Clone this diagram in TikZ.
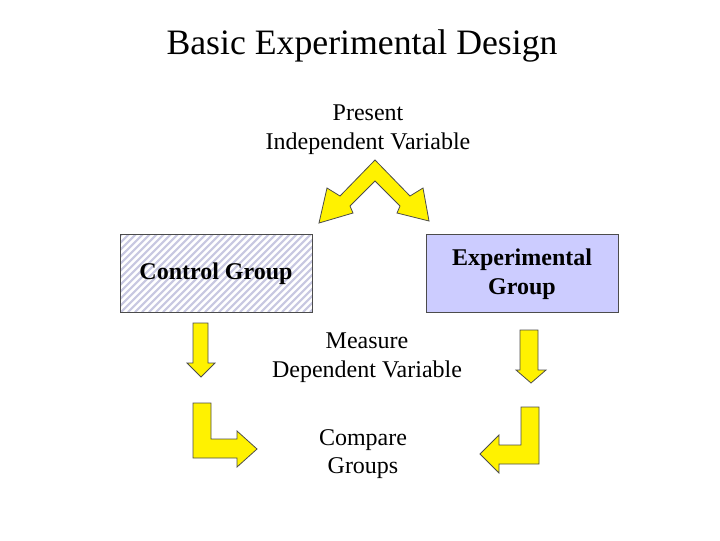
\documentclass[tikz,border=0pt]{standalone}
\usepackage{fontspec}
\setmainfont{Liberation Serif}
\begin{document}
\begin{tikzpicture}[x=0.75pt,y=-0.75pt,
  arr/.style={draw=black!70,fill=yellow,line width=0.6pt,line join=miter},
  box/.style={draw=black!70,line width=0.6pt},
  lbl/.style={font=\fontsize{18}{21.5}\selectfont,align=center},
  blbl/.style={font=\bfseries\fontsize{18}{22}\selectfont,align=center}]
\useasboundingbox (0,0) rectangle (720,540);
\node[font=\fontsize{26.8}{30}\selectfont] (title) at (362,46) {Basic Experimental Design};
\node[lbl] (present) at (368,130) {Present\\Independent Variable};
\draw[arr] (375,160) -- (340,196) -- (327,188) -- (319,223) -- (353,213) -- (350,206) -- (375,181) -- (400,206) -- (397,213) -- (429,221) -- (423,188) -- (410,196) -- cycle;
\begin{scope}
\clip (120,234) rectangle (312,312);
\foreach \i in {0,7,...,290} {
  \draw[color={rgb,255:red,200;green,200;blue,225},line width=1.6pt] (120+\i-90,312) -- (120+\i,222);
}
\end{scope}
\draw[box] (120,234) rectangle (312,312);
\node[blbl] (ctrl) at (216,274) {Control Group};
\draw[box,fill={rgb,255:red,204;green,204;blue,255}] (426,234) rectangle (618,312);
\node[blbl] (exp) at (522,274) {Experimental\\Group};
\node[lbl] (measure) at (367,358) {Measure\\Dependent Variable};
\node[lbl] (compare) at (363,454) {Compare\\Groups};
\draw[arr] (193,323) -- (208,323) -- (208,363) -- (215,363) -- (201,377) -- (187,363) -- (193,363) -- cycle;
\draw[arr] (520,330) -- (538,330) -- (538,370) -- (546,370) -- (531,383) -- (516,370) -- (520,370) -- cycle;
\draw[arr] (193,403) -- (211,403) -- (211,439) -- (237,439) -- (237,431) -- (257,449) -- (237,467) -- (237,458) -- (193,458) -- cycle;
\draw[arr] (521,407) -- (539,407) -- (539,464) -- (499,464) -- (499,473) -- (480,454) -- (499,435) -- (499,445) -- (521,445) -- cycle;
\end{tikzpicture}
\end{document}
